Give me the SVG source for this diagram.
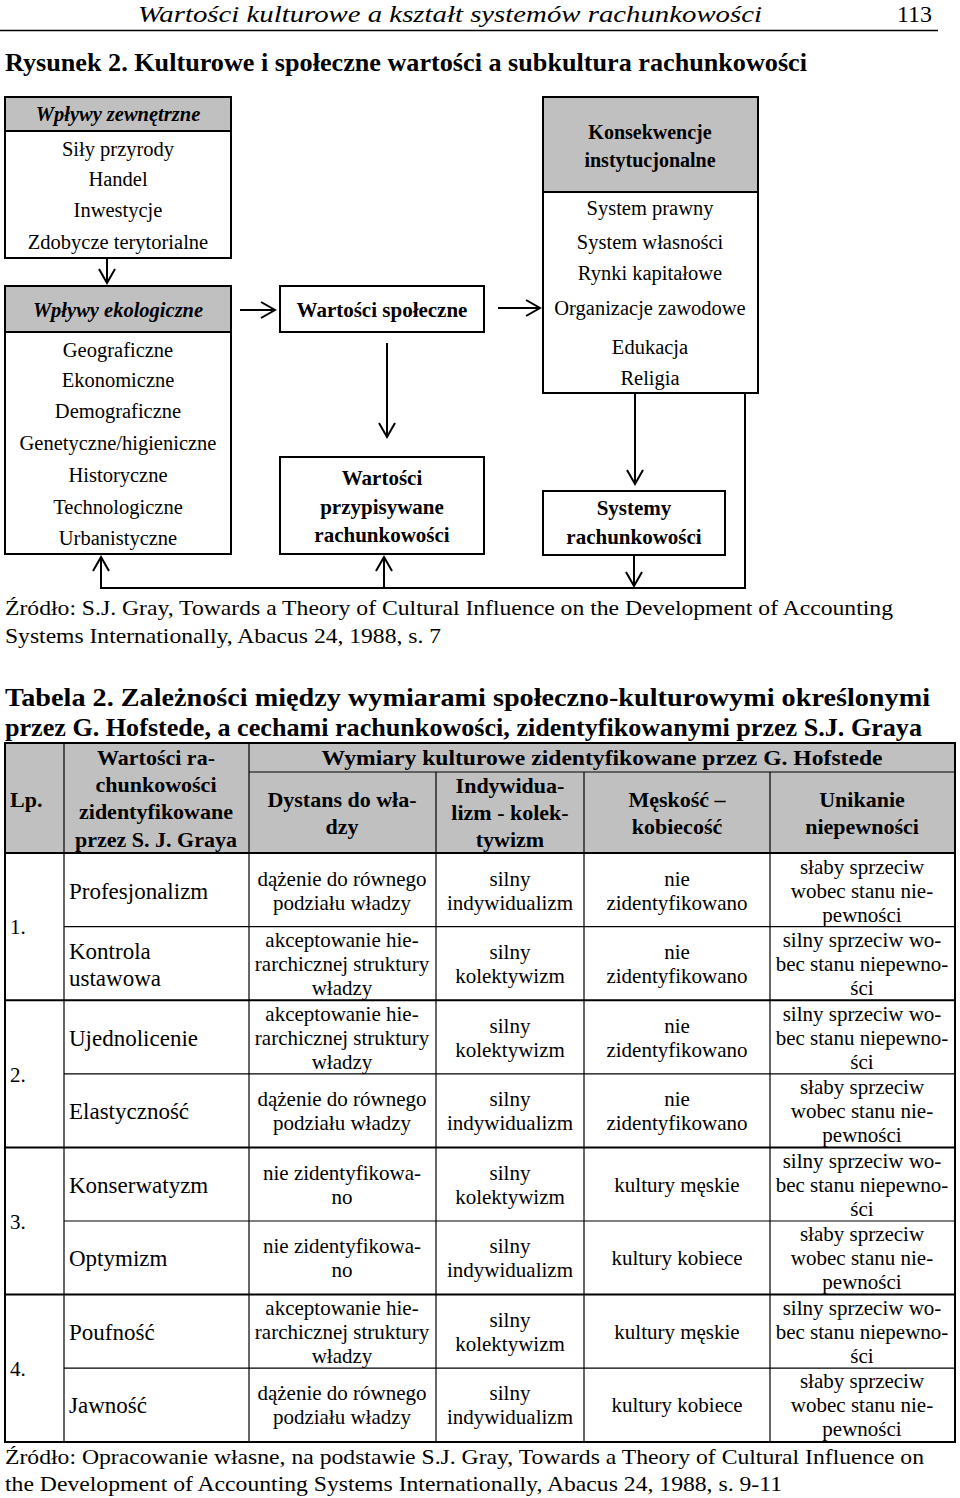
<svg xmlns="http://www.w3.org/2000/svg" width="960" height="1498" viewBox="0 0 960 1498">
<defs>
<style>
text{font-family:"Liberation Serif","Times New Roman",serif;fill:#000}
.hd{font-size:24px;font-style:italic}
.ttl{font-size:26px;font-weight:bold}
.src{font-size:22px}
.d{font-size:20.5px;text-anchor:middle}
.db{font-size:21px;font-weight:bold;text-anchor:middle}
.dbi{font-size:20.5px;font-weight:bold;font-style:italic;text-anchor:middle}
.box{fill:#fff;stroke:#000;stroke-width:2}
.gray{fill:#c0c0c0;stroke:#000;stroke-width:2}
.con{fill:none;stroke:#000;stroke-width:2}
.th{font-size:22px;font-weight:bold;text-anchor:middle}
.tc{font-size:21px;text-anchor:middle}
.tl{font-size:23px}
.tn{font-size:21px}
.g1{stroke:#000;stroke-width:1.2;fill:none}
.g2{stroke:#000;stroke-width:2;fill:none}
</style>
</defs>
<rect width="960" height="1498" fill="#fff"/>

<g id="page-header">
<text class="hd" x="138" y="22" textLength="624" lengthAdjust="spacingAndGlyphs">Wartości kulturowe a kształt systemów rachunkowości</text>
<text x="932" y="22" style="font-size:24px;text-anchor:end">113</text>
<line x1="0" y1="30.5" x2="938" y2="30.5" stroke="#000" stroke-width="1.5"/>
</g>

<text class="ttl" x="5" y="71" textLength="802" lengthAdjust="spacingAndGlyphs">Rysunek 2. Kulturowe i społeczne wartości a subkultura rachunkowości</text>

<g id="wplywy-zewnetrzne">
<rect class="box" x="5" y="97" width="226" height="161"/>
<rect class="gray" x="5" y="97" width="226" height="34"/>
<text class="dbi" x="118" y="121">Wpływy zewnętrzne</text>
<text class="d" x="118" y="156">Siły przyrody</text>
<text class="d" x="118" y="186">Handel</text>
<text class="d" x="118" y="217">Inwestycje</text>
<text class="d" x="118" y="249">Zdobycze terytorialne</text>
</g>

<g id="wplywy-ekologiczne">
<rect class="box" x="5" y="286" width="226" height="268"/>
<rect class="gray" x="5" y="286" width="226" height="46"/>
<text class="dbi" x="118" y="317">Wpływy ekologiczne</text>
<text class="d" x="118" y="357">Geograficzne</text>
<text class="d" x="118" y="387">Ekonomiczne</text>
<text class="d" x="118" y="418">Demograficzne</text>
<text class="d" x="118" y="450">Genetyczne/higieniczne</text>
<text class="d" x="118" y="482">Historyczne</text>
<text class="d" x="118" y="514">Technologiczne</text>
<text class="d" x="118" y="545">Urbanistyczne</text>
</g>

<g id="wartosci-spoleczne">
<rect class="box" x="280" y="286" width="204" height="46"/>
<text class="db" x="382" y="317">Wartości społeczne</text>
</g>

<g id="wartosci-przypisywane">
<rect class="box" x="280" y="457" width="204" height="97"/>
<text class="db" x="382" y="485">Wartości</text>
<text class="db" x="382" y="514">przypisywane</text>
<text class="db" x="382" y="542">rachunkowości</text>
</g>

<g id="konsekwencje-instytucjonalne">
<rect class="box" x="543" y="97" width="215" height="296"/>
<rect class="gray" x="543" y="97" width="215" height="95"/>
<text class="db" x="650" y="139" style="font-size:20px">Konsekwencje</text>
<text class="db" x="650" y="167" style="font-size:20px">instytucjonalne</text>
<text class="d" x="650" y="215">System prawny</text>
<text class="d" x="650" y="249">System własności</text>
<text class="d" x="650" y="280">Rynki kapitałowe</text>
<text class="d" x="650" y="315">Organizacje zawodowe</text>
<text class="d" x="650" y="354">Edukacja</text>
<text class="d" x="650" y="385">Religia</text>
</g>

<g id="systemy-rachunkowosci">
<rect class="box" x="543" y="491" width="182" height="64"/>
<text class="db" x="634" y="515">Systemy</text>
<text class="db" x="634" y="544">rachunkowości</text>
</g>

<g id="connectors">
<path class="con" d="M107,258 V283 M99,269 L107,283 L115,269"/>
<path class="con" d="M240,310 H275 M261,302 L275,310 L261,318"/>
<path class="con" d="M498,308 H540 M526,300 L540,308 L526,316"/>
<path class="con" d="M387,343 V437 M379,423 L387,437 L395,423"/>
<path class="con" d="M635,393 V484 M627,470 L635,484 L643,470"/>
<path class="con" d="M634,555 V586 M626,572 L634,586 L642,572"/>
<path class="con" d="M745,392 V588 H101 V557 M93,571 L101,557 L109,571"/>
<path class="con" d="M384,588 V557 M376,571 L384,557 L392,571"/>
</g>

<g id="source-1">
<text class="src" x="5" y="615" textLength="888" lengthAdjust="spacingAndGlyphs">Źródło: S.J. Gray, Towards a Theory of Cultural Influence on the Development of Accounting</text>
<text class="src" x="5" y="643" textLength="436" lengthAdjust="spacingAndGlyphs">Systems Internationally, Abacus 24, 1988, s. 7</text>
</g>

<g id="table-title">
<text class="ttl" x="5" y="706" textLength="925" lengthAdjust="spacingAndGlyphs">Tabela 2. Zależności między wymiarami społeczno-kulturowymi określonymi</text>
<text class="ttl" x="5" y="736" textLength="917" lengthAdjust="spacingAndGlyphs">przez G. Hofstede, a cechami rachunkowości, zidentyfikowanymi przez S.J. Graya</text>
</g>

<g id="table">
<rect x="5" y="743" width="950" height="110" fill="#c0c0c0"/>
<g id="grid">
<rect class="g2" x="5" y="743" width="950" height="699"/>
<line class="g1" x1="249" y1="772" x2="955" y2="772"/>
<line class="g2" x1="5" y1="853" x2="955" y2="853"/>
<line class="g1" x1="64" y1="743" x2="64" y2="1442"/>
<line class="g1" x1="249" y1="743" x2="249" y2="1442"/>
<line class="g1" x1="436" y1="772" x2="436" y2="1442"/>
<line class="g1" x1="584" y1="772" x2="584" y2="1442"/>
<line class="g1" x1="770" y1="772" x2="770" y2="1442"/>
<line class="g1" x1="64" y1="926.6" x2="955" y2="926.6"/>
<line class="g2" x1="5" y1="1000.2" x2="955" y2="1000.2"/>
<line class="g1" x1="64" y1="1073.8" x2="955" y2="1073.8"/>
<line class="g2" x1="5" y1="1147.4" x2="955" y2="1147.4"/>
<line class="g1" x1="64" y1="1221" x2="955" y2="1221"/>
<line class="g2" x1="5" y1="1294.6" x2="955" y2="1294.6"/>
<line class="g1" x1="64" y1="1368.2" x2="955" y2="1368.2"/>
</g>
<g id="table-header">
<text x="10" y="807" style="font-size:22px;font-weight:bold">Lp.</text>
<text class="th" x="156" y="765">Wartości ra-</text>
<text class="th" x="156" y="792">chunkowości</text>
<text class="th" x="156" y="819">zidentyfikowane</text>
<text class="th" x="156" y="847">przez S. J. Graya</text>
<text class="th" x="602" y="765" textLength="561" lengthAdjust="spacingAndGlyphs">Wymiary kulturowe zidentyfikowane przez G. Hofstede</text>
<text class="th" x="342" y="807">Dystans do wła-</text>
<text class="th" x="342" y="834">dzy</text>
<text class="th" x="510" y="793">Indywidua-</text>
<text class="th" x="510" y="820">lizm - kolek-</text>
<text class="th" x="510" y="847">tywizm</text>
<text class="th" x="677" y="807">Męskość –</text>
<text class="th" x="677" y="834">kobiecość</text>
<text class="th" x="862" y="807">Unikanie</text>
<text class="th" x="862" y="834">niepewności</text>
</g>
<g id="lp">
<text class="tn" x="10" y="934">1.</text>
<text class="tn" x="10" y="1082">2.</text>
<text class="tn" x="10" y="1229">3.</text>
<text class="tn" x="10" y="1376">4.</text>
</g>
<g id="row-1">
<text class="tl" x="69" y="899">Profesjonalizm</text>
<text class="tc" x="342" y="886">dążenie do równego</text>
<text class="tc" x="342" y="910">podziału władzy</text>
<text class="tc" x="510" y="886">silny</text>
<text class="tc" x="510" y="910">indywidualizm</text>
<text class="tc" x="677" y="886">nie</text>
<text class="tc" x="677" y="910">zidentyfikowano</text>
<text class="tc" x="862" y="874">słaby sprzeciw</text>
<text class="tc" x="862" y="898">wobec stanu nie-</text>
<text class="tc" x="862" y="922">pewności</text>
</g>
<g id="row-2">
<text class="tl" x="69" y="959">Kontrola</text>
<text class="tl" x="69" y="986">ustawowa</text>
<text class="tc" x="342" y="947">akceptowanie hie-</text>
<text class="tc" x="342" y="971">rarchicznej struktury</text>
<text class="tc" x="342" y="995">władzy</text>
<text class="tc" x="510" y="959">silny</text>
<text class="tc" x="510" y="983">kolektywizm</text>
<text class="tc" x="677" y="959">nie</text>
<text class="tc" x="677" y="983">zidentyfikowano</text>
<text class="tc" x="862" y="947">silny sprzeciw wo-</text>
<text class="tc" x="862" y="971">bec stanu niepewno-</text>
<text class="tc" x="862" y="995">ści</text>
</g>
<g id="row-3">
<text class="tl" x="69" y="1046">Ujednolicenie</text>
<text class="tc" x="342" y="1021">akceptowanie hie-</text>
<text class="tc" x="342" y="1045">rarchicznej struktury</text>
<text class="tc" x="342" y="1069">władzy</text>
<text class="tc" x="510" y="1033">silny</text>
<text class="tc" x="510" y="1057">kolektywizm</text>
<text class="tc" x="677" y="1033">nie</text>
<text class="tc" x="677" y="1057">zidentyfikowano</text>
<text class="tc" x="862" y="1021">silny sprzeciw wo-</text>
<text class="tc" x="862" y="1045">bec stanu niepewno-</text>
<text class="tc" x="862" y="1069">ści</text>
</g>
<g id="row-4">
<text class="tl" x="69" y="1119">Elastyczność</text>
<text class="tc" x="342" y="1106">dążenie do równego</text>
<text class="tc" x="342" y="1130">podziału władzy</text>
<text class="tc" x="510" y="1106">silny</text>
<text class="tc" x="510" y="1130">indywidualizm</text>
<text class="tc" x="677" y="1106">nie</text>
<text class="tc" x="677" y="1130">zidentyfikowano</text>
<text class="tc" x="862" y="1094">słaby sprzeciw</text>
<text class="tc" x="862" y="1118">wobec stanu nie-</text>
<text class="tc" x="862" y="1142">pewności</text>
</g>
<g id="row-5">
<text class="tl" x="69" y="1193">Konserwatyzm</text>
<text class="tc" x="342" y="1180">nie zidentyfikowa-</text>
<text class="tc" x="342" y="1204">no</text>
<text class="tc" x="510" y="1180">silny</text>
<text class="tc" x="510" y="1204">kolektywizm</text>
<text class="tc" x="677" y="1192">kultury męskie</text>
<text class="tc" x="862" y="1168">silny sprzeciw wo-</text>
<text class="tc" x="862" y="1192">bec stanu niepewno-</text>
<text class="tc" x="862" y="1216">ści</text>
</g>
<g id="row-6">
<text class="tl" x="69" y="1266">Optymizm</text>
<text class="tc" x="342" y="1253">nie zidentyfikowa-</text>
<text class="tc" x="342" y="1277">no</text>
<text class="tc" x="510" y="1253">silny</text>
<text class="tc" x="510" y="1277">indywidualizm</text>
<text class="tc" x="677" y="1265">kultury kobiece</text>
<text class="tc" x="862" y="1241">słaby sprzeciw</text>
<text class="tc" x="862" y="1265">wobec stanu nie-</text>
<text class="tc" x="862" y="1289">pewności</text>
</g>
<g id="row-7">
<text class="tl" x="69" y="1340">Poufność</text>
<text class="tc" x="342" y="1315">akceptowanie hie-</text>
<text class="tc" x="342" y="1339">rarchicznej struktury</text>
<text class="tc" x="342" y="1363">władzy</text>
<text class="tc" x="510" y="1327">silny</text>
<text class="tc" x="510" y="1351">kolektywizm</text>
<text class="tc" x="677" y="1339">kultury męskie</text>
<text class="tc" x="862" y="1315">silny sprzeciw wo-</text>
<text class="tc" x="862" y="1339">bec stanu niepewno-</text>
<text class="tc" x="862" y="1363">ści</text>
</g>
<g id="row-8">
<text class="tl" x="69" y="1413">Jawność</text>
<text class="tc" x="342" y="1400">dążenie do równego</text>
<text class="tc" x="342" y="1424">podziału władzy</text>
<text class="tc" x="510" y="1400">silny</text>
<text class="tc" x="510" y="1424">indywidualizm</text>
<text class="tc" x="677" y="1412">kultury kobiece</text>
<text class="tc" x="862" y="1388">słaby sprzeciw</text>
<text class="tc" x="862" y="1412">wobec stanu nie-</text>
<text class="tc" x="862" y="1436">pewności</text>
</g>
</g>

<g id="source-2">
<text class="src" x="5" y="1464" textLength="919" lengthAdjust="spacingAndGlyphs">Źródło: Opracowanie własne, na podstawie S.J. Gray, Towards a Theory of Cultural Influence on</text>
<text class="src" x="5" y="1491" textLength="777" lengthAdjust="spacingAndGlyphs">the Development of Accounting Systems Internationally, Abacus 24, 1988, s. 9-11</text>
</g>
</svg>
